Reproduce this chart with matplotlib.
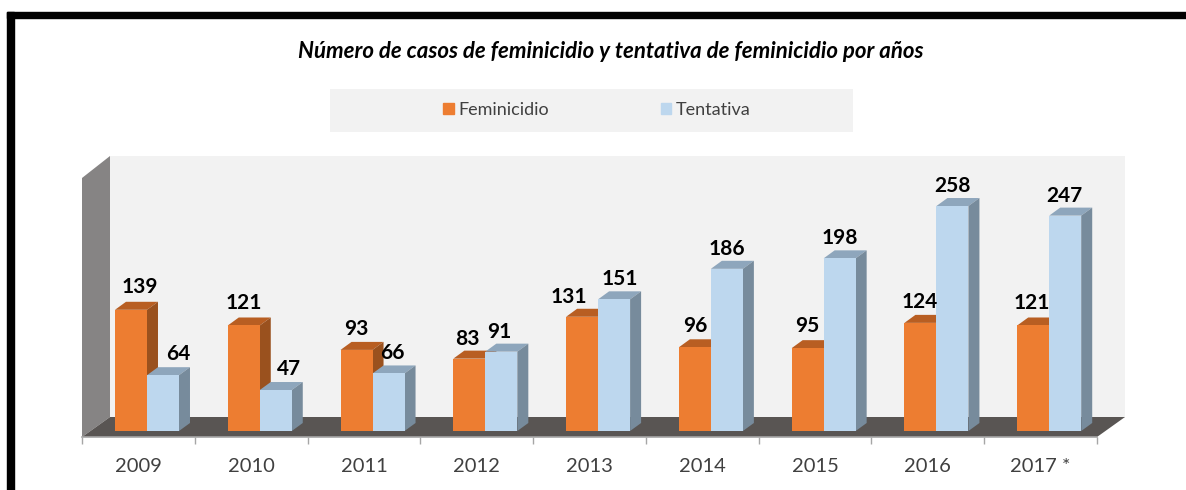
import matplotlib
matplotlib.use("Agg")
import matplotlib.pyplot as plt
from matplotlib.patches import Polygon, Rectangle

plt.rcParams['font.family'] = ['Lato', 'DejaVu Sans']

years = ['2009', '2010', '2011', '2012', '2013', '2014', '2015', '2016', '2017 *']
feminicidio = [139, 121, 93, 83, 131, 96, 95, 124, 121]
tentativa = [64, 47, 66, 91, 151, 186, 198, 258, 247]

# decalage manuel des etiquettes (pixels), comme dans l'original
fem_nudge = [(9, 3), (0, 2), (0, 1), (-2, 0), (-13, 0), (0, 1), (0, 2), (-1, 1), (-1, 2)]
ten_nudge = [(15, 1), (13, 1), (4, 0), (-2, 0), (6, 0), (0, 0), (0, 0), (0, 0), (-1, 0)]

W, H = 1186, 490
PX_UNIT = 0.872          # pixels par cas
BASE = 431               # ligne de base des barres (pixels)
CAT = (1097 - 82) / 9    # largeur d'une categorie (pixels)

fig = plt.figure(figsize=(W / 100, H / 100), dpi=100, facecolor='white')

# fond : cadre, murs, sol, legende (en pixels)
bg = fig.add_axes([0, 0, 1, 1])
bg.set_xlim(0, W)
bg.set_ylim(H, 0)
bg.axis('off')
bg.add_patch(Rectangle((7, 12), 7, 478, color='black'))
bg.add_patch(Rectangle((7, 12), W - 7, 6, color='black'))
bg.add_patch(Rectangle((110, 156), 1015, 262, color='#f2f2f2', lw=0))
bg.add_patch(Polygon([(82, 178), (110, 156), (110, 417), (82, 437)], color='#868484', lw=0))
bg.add_patch(Polygon([(82, 437), (1097, 437), (1125, 417), (110, 417)], color='#595553', lw=0))
bg.add_patch(Rectangle((330, 89), 523, 43, color='#f2f2f2', lw=0))
bg.text(610.5, 52, 'Número de casos de feminicidio y tentativa de feminicidio por años',
        ha='center', va='center', fontsize=16, fontweight='bold', fontstyle='italic', color='black')

# barres : echelle des donnees
ax = fig.add_axes([82 / W, (H - 437) / H, (1097 - 82) / W, (437 - 20) / H])
ax.patch.set_visible(False)
ax.set_xlim(-0.5, 8.5)
ax.set_ylim(-6 / PX_UNIT, (BASE - 20) / PX_UNIT)

bar_w = 32 / CAT
dx = 11 / CAT
dy = 8 / PX_UNIT
shift = 8.6 / CAT


def bar3d(x, v, front, top, side, z):
    ax.bar(x, v, width=bar_w, align='edge', color=front, linewidth=0, zorder=z + 0.2)
    ax.add_patch(Polygon([(x, v), (x + bar_w, v), (x + bar_w + dx, v + dy), (x + dx, v + dy)],
                         color=top, lw=0, zorder=z))
    ax.add_patch(Polygon([(x + bar_w, 0), (x + bar_w + dx, dy), (x + bar_w + dx, v + dy), (x + bar_w, v)],
                         color=side, lw=0, zorder=z))


for i in range(len(years)):
    left = i + shift - bar_w
    bar3d(left, feminicidio[i], '#ed7d31', '#b85e22', '#9a511e', 2 + i)
    bar3d(left + bar_w, tentativa[i], '#bdd7ee', '#8ea6bc', '#778b9c', 2.5 + i)
    for x, v, nudge in [(left, feminicidio[i], fem_nudge[i]), (left + bar_w, tentativa[i], ten_nudge[i])]:
        ax.annotate(str(v), (x + bar_w / 2, v), xytext=(nudge[0], 20 + nudge[1]),
                    textcoords='offset pixels', ha='center', va='center',
                    fontsize=15, fontweight='bold', color='black', zorder=20)

for s in ['top', 'left', 'right']:
    ax.spines[s].set_visible(False)
ax.spines['bottom'].set_color('#a6a6a6')
ax.spines['bottom'].set_linewidth(1.2)
ax.set_yticks([])
ax.set_xticks([i - 0.5 for i in range(10)])
ax.set_xticklabels([])
ax.tick_params(axis='x', which='major', length=5, width=1, color='#a6a6a6')
ax.set_xticks(range(9), minor=True)
ax.set_xticklabels(years, minor=True, fontsize=14.5, color='#404040')
ax.tick_params(axis='x', which='minor', length=0, pad=15)

handles = [Rectangle((0, 0), 1, 1, color='#ed7d31'), Rectangle((0, 0), 1, 1, color='#bdd7ee')]
fig.legend(handles, ['Feminicidio', 'Tentativa'], ncol=2, frameon=False,
           loc='center left', bbox_to_anchor=(427 / W, (H - 110) / H),
           fontsize=13, handlelength=0.6, handleheight=0.6, handletextpad=0.22,
           columnspacing=6.2, labelcolor='#404040')

fig.savefig('out.png', dpi=100)
